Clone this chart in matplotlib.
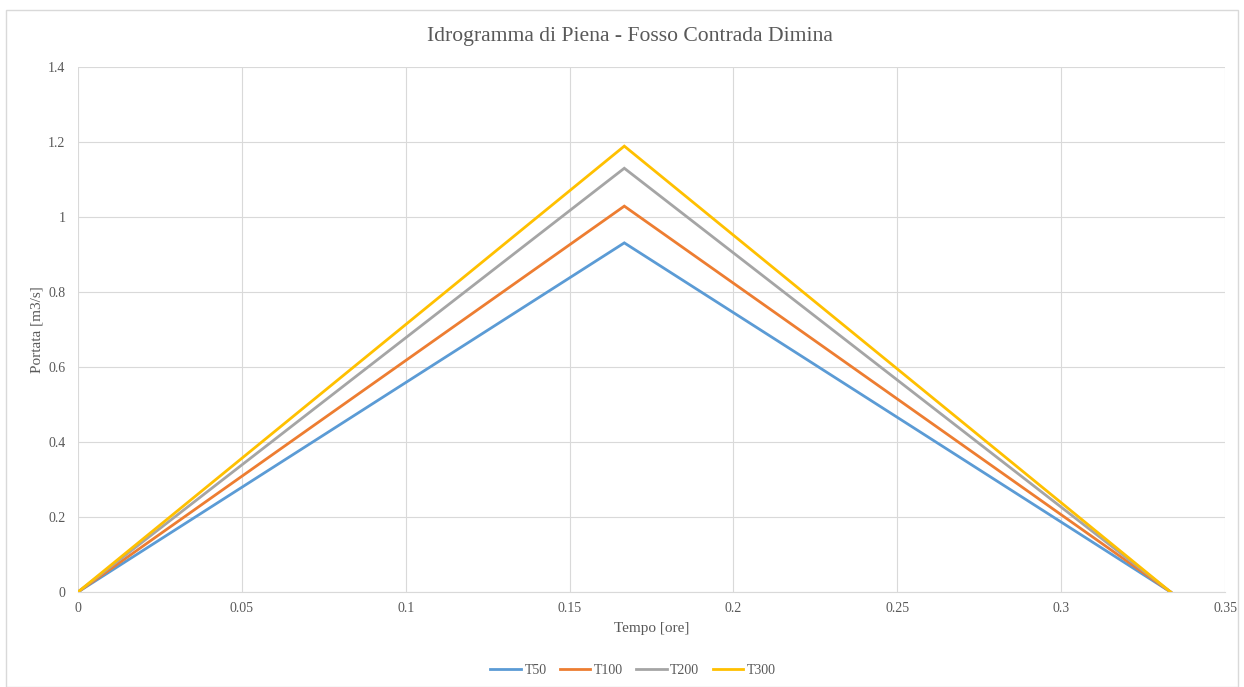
import matplotlib
matplotlib.use("Agg")
import matplotlib.pyplot as plt
from matplotlib.patches import Rectangle

# Triangular flood hydrographs: time [h] and discharge [m3/s]
tempo = [0.0, 0.1667, 0.3334]
q_t50 = [0.0, 0.931, 0.0]
q_t100 = [0.0, 1.029, 0.0]
q_t200 = [0.0, 1.130, 0.0]
q_t300 = [0.0, 1.189, 0.0]

series = [
    ("T50", q_t50, "#5B9BD5"),
    ("T100", q_t100, "#ED7D31"),
    ("T200", q_t200, "#A5A5A5"),
    ("T300", q_t300, "#FFC000"),
]

x_ticks = [0, 0.05, 0.1, 0.15, 0.2, 0.25, 0.3, 0.35]
x_tick_labels = ["0", "0.05", "0.1", "0.15", "0.2", "0.25", "0.3", "0.35"]
y_ticks = [0, 0.2, 0.4, 0.6, 0.8, 1.0, 1.2, 1.4]
y_tick_labels = ["0", "0.2", "0.4", "0.6", "0.8", "1", "1.2", "1.4"]

plt.rcParams["font.family"] = ["Liberation Serif", "DejaVu Serif"]

fig = plt.figure(figsize=(12.44, 6.87), dpi=100)
fig.patch.set_facecolor("white")
fig.add_artist(Rectangle((6 / 1244, 0), 1232 / 1244, 1 - 10 / 687,
                         transform=fig.transFigure, fill=False,
                         edgecolor="#D9D9D9", linewidth=1.0))

ax = fig.add_axes([78 / 1244, 1 - 592 / 687, 1147 / 1244, 525 / 687])
for name, q, c in series:
    ax.plot(tempo, q, color=c, linewidth=2.0, label=name, solid_joinstyle="miter")

ax.set_xlim(0, 0.35)
ax.set_ylim(0, 1.4)
ax.set_xticks(x_ticks)
ax.set_xticklabels(x_tick_labels)
ax.set_yticks(y_ticks)
ax.set_yticklabels(y_tick_labels)
ax.grid(True, color="#D9D9D9", linewidth=0.8)
ax.set_axisbelow(True)
for side in ["top", "right", "left"]:
    ax.spines[side].set_visible(False)
ax.spines["bottom"].set_color("#D9D9D9")
ax.tick_params(length=0, labelsize=10, colors="#595959")
ax.tick_params(axis="x", pad=7)
ax.tick_params(axis="y", pad=9)

ax.set_xlabel("Tempo [ore]", fontsize=11, color="#595959", labelpad=5)
ax.set_ylabel("Portata [m3/s]", fontsize=11, color="#595959", labelpad=3)
fig.text(630 / 1244, 1 - 36 / 687, "Idrogramma di Piena - Fosso Contrada Dimina",
         ha="center", va="center", fontsize=15.6, color="#595959")

leg = fig.legend(loc="center", bbox_to_anchor=(633 / 1244, 1 - 670 / 687), ncol=4,
                 frameon=False, fontsize=10, handlelength=2.2,
                 columnspacing=0.95, handletextpad=0.25)
for t in leg.get_texts():
    t.set_color("#595959")

fig.savefig("out.png", dpi=100, facecolor="white")
